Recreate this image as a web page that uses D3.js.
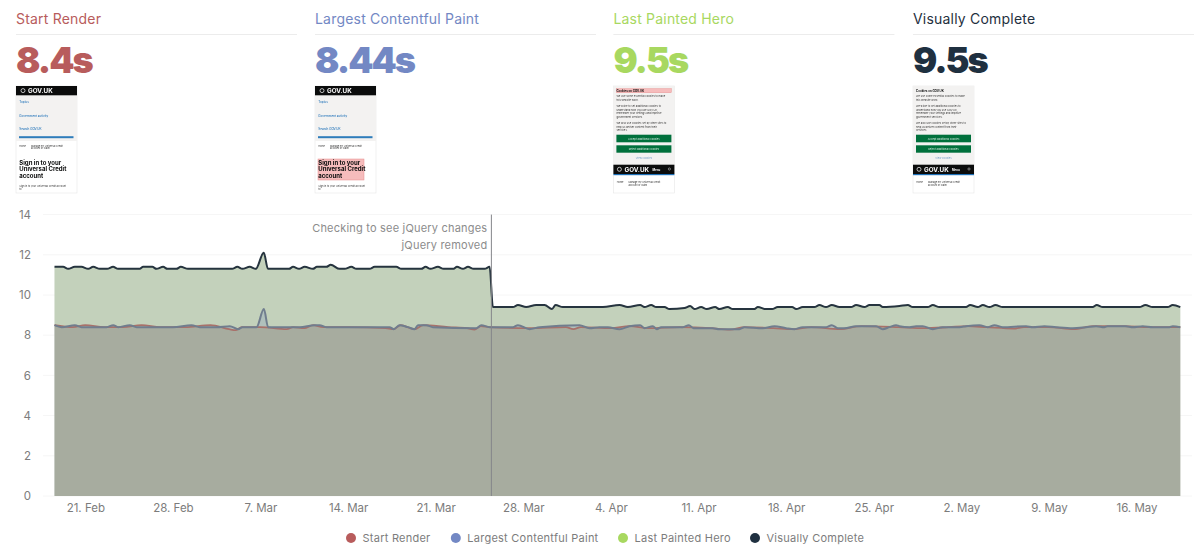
<!DOCTYPE html>
<html lang="en">
<head>
<meta charset="UTF-8">
<title>Rendering metrics</title>
<script src="https://d3js.org/d3.v7.min.js"></script>
<style>
    html, body { margin: 0; padding: 0; background: #fff; }
    svg { display: block; font-family: Inter, "Open Sans", sans-serif; }
    .axis text { fill: #7c7c7c; font-size: 11.5px; font-family: Inter, sans-serif; }
    .axis path, .axis line { display: none; }
    .thumb { filter: blur(0.45px); }
</style>
</head>
<body>
<svg id="chart" width="1200" height="559"></svg>
<script>
// summary cards
const metricNames = ["Start Render", "Largest Contentful Paint", "Last Painted Hero", "Visually Complete"];
const metricValues = ["8.4s", "8.44s", "9.5s", "9.5s"];
const metricColors = ["#b85c5c", "#7388c4", "#a8d860", "#1f3040"];

// series, days are counted from 21 Feb
const visualDays = [-2.46,-1.77,-1.37,-0.84,-0.31,0.23,0.63,1.16,1.74,2.22,2.62,4.35,4.62,5.36,5.68,6.22,6.56,7.28,7.63,8.21,11.73,12.15,12.55,13.14,13.62,14.26,14.6,16.28,16.6,17.08,17.53,18.19,18.51,19.26,19.61,20.32,20.72,21.26,21.66,22.72,23.12,24.85,25.25,26.85,27.19,27.57,28.18,28.63,29.43,29.7,30.18,30.58,31.03,31.91,32.31,32.57,34.17,34.57,35.23,36.03,36.7,37.29,37.58,38.16,40.83,41.36,42.69,43.35,44.34,44.68,45.22,45.62,46.28,46.68,47.88,48.33,48.68,49.21,49.66,50.33,50.67,51.34,51.74,53.47,53.74,54.4,54.88,55.33,56.48,56.8,57.33,58.26,58.66,59.19,59.65,60.26,61.19,61.59,62.26,62.66,63.45,63.72,65.06,65.73,66.12,67.32,67.72,68.25,70.38,70.7,71.32,71.72,72.25,72.73,73.31,80.5,80.82,81.3,84.23,84.71,85.29,86.49,86.89,87.5];
const visualValues = [11.4,11.4,11.3,11.4,11.4,11.3,11.4,11.3,11.3,11.4,11.3,11.3,11.4,11.4,11.3,11.4,11.3,11.3,11.4,11.3,11.3,11.4,11.3,11.4,11.3,12.1,11.3,11.3,11.4,11.3,11.4,11.3,11.4,11.4,11.5,11.3,11.3,11.4,11.3,11.3,11.4,11.4,11.3,11.3,11.4,11.3,11.4,11.3,11.3,11.4,11.3,11.4,11.3,11.3,11.4,9.4,9.4,9.5,9.4,9.5,9.5,9.3,9.5,9.4,9.4,9.4,9.5,9.4,9.5,9.4,9.5,9.4,9.4,9.3,9.35,9.45,9.3,9.4,9.3,9.4,9.3,9.4,9.3,9.3,9.4,9.3,9.3,9.4,9.4,9.3,9.4,9.4,9.5,9.4,9.5,9.4,9.4,9.5,9.4,9.5,9.5,9.4,9.45,9.5,9.4,9.4,9.5,9.4,9.4,9.5,9.4,9.5,9.4,9.5,9.4,9.4,9.5,9.4,9.4,9.5,9.4,9.4,9.5,9.4];

const lcpDays = [-2.46,-1.89,-0.83,-0.3,1.7,2.23,2.63,3.56,4.1,7,8.49,9.15,10.49,11.55,12.22,12.56,13.68,14.27,14.61,17.13,18.33,18.73,19.26,24.32,24.64,25.12,25.78,26.31,26.58,27.25,27.78,31.24,31.64,32.31,34.17,34.57,35.5,36.3,39.49,40.29,41.09,41.76,42.69,43.49,44.34,44.68,45.35,45.67,46.02,47.75,48.23,48.6,50.14,50.67,52.27,52.67,54.14,55.07,56,56.67,57.33,59.2,59.65,60.13,60.66,61.59,63.19,63.72,64.25,64.79,65.05,65.86,66.39,66.92,67.72,68.52,69.85,70.38,71.45,72.12,72.65,73.31,75.18,75.71,76.64,77.57,78.9,79.97,80.77,81.43,81.7,83.16,83.7,84.5,85.3,86.63,86.9,87.5];
const lcpValues = [8.5,8.4,8.5,8.4,8.4,8.5,8.4,8.5,8.4,8.4,8.5,8.4,8.4,8.45,8.3,8.4,8.4,9.3,8.4,8.4,8.5,8.5,8.4,8.4,8.3,8.5,8.4,8.3,8.5,8.5,8.4,8.35,8.5,8.4,8.4,8.5,8.3,8.4,8.5,8.35,8.4,8.4,8.3,8.45,8.5,8.35,8.45,8.3,8.4,8.4,8.5,8.35,8.35,8.3,8.3,8.4,8.35,8.45,8.35,8.3,8.4,8.4,8.5,8.35,8.35,8.45,8.45,8.3,8.4,8.5,8.45,8.4,8.45,8.45,8.3,8.4,8.4,8.45,8.5,8.4,8.5,8.4,8.45,8.4,8.45,8.4,8.35,8.4,8.45,8.4,8.45,8.45,8.4,8.45,8.4,8.4,8.45,8.4];

const renderDays = [-2.46,-1,0,1.5,3,4.5,6,8,10,11.5,12,12.5,14,16.1,16.6,17.5,18.2,19,21,24,24.64,25.2,26.3,27,29,30.5,31.1,31.6,32.3,35.5,38.4,39,39.6,42,43.5,45,47.5,50,51.5,52.7,55,56.6,58,60.3,62,65,67,69,70.5,72,74.2,75,77,79,80.5,83,85,87.5];
const renderValues = [8.5,8.4,8.5,8.4,8.4,8.5,8.4,8.4,8.5,8.3,8.25,8.4,8.4,8.3,8.4,8.35,8.5,8.4,8.4,8.35,8.3,8.5,8.3,8.5,8.4,8.35,8.28,8.45,8.4,8.35,8.4,8.3,8.4,8.35,8.45,8.35,8.4,8.35,8.28,8.4,8.35,8.3,8.4,8.3,8.45,8.4,8.35,8.4,8.45,8.4,8.33,8.4,8.4,8.3,8.45,8.45,8.4,8.4];

const plotLineDay = 32.45;
const plotLineLabels = ["Checking to see jQuery changes", "jQuery removed"];
const yTicks = [0, 2, 4, 6, 8, 10, 12, 14];
const xTickDays = [0, 7, 14, 21, 28, 35, 42, 49, 56, 63, 70, 77, 84];

const svg = d3.select("#chart");
const baseDate = new Date(2022, 1, 21);
const toDate = d => new Date(baseDate.getTime() + d * 864e5);

const x = d3.scaleTime().domain([toDate(0), toDate(84)]).range([85.3, 1136.5]);
const y = d3.scaleLinear().domain([0, 14]).range([496, 214.6]);

function zipSeries(days, values) {
    return days.map((d, i) => ({ date: toDate(d), value: values[i] }));
}

const line = d3.line().x(d => x(d.date)).y(d => y(d.value)).curve(d3.curveMonotoneX);
const area = d3.area().x(d => x(d.date)).y0(y(0)).y1(d => y(d.value)).curve(d3.curveMonotoneX);

// cards
const cardX = [16, 315, 613.4, 913];
const cards = svg.selectAll("g.card").data(metricNames).enter().append("g")
    .attr("class", "card")
    .attr("transform", (d, i) => `translate(${cardX[i]},0)`);

cards.append("text").attr("y", 24).attr("font-size", 14).attr("letter-spacing", 0.2)
    .attr("fill", (d, i) => metricColors[i]).text(d => d);
cards.append("line").attr("x1", 0).attr("x2", 281).attr("y1", 34.5).attr("y2", 34.5)
    .attr("stroke", "#ececec").attr("stroke-width", 1.2);
cards.append("text").attr("y", 73).attr("font-size", 36).attr("font-weight", 900).attr("letter-spacing", -2)
    .attr("fill", (d, i) => metricColors[i]).text((d, i) => metricValues[i]);

// little page screenshots
function addText(g, str, tx, ty, size, fill, weight, anchor) {
    g.append("text").attr("x", tx).attr("y", ty).attr("font-size", size).attr("fill", fill)
        .attr("font-weight", weight || 400).attr("text-anchor", anchor || "start").text(str);
}

function drawCrown(g, cx, cy) {
    g.append("circle").attr("cx", cx).attr("cy", cy).attr("r", 2).attr("fill", "none")
        .attr("stroke", "#fff").attr("stroke-width", 0.7);
}

function drawSignIn(g, highlight) {
    g.append("rect").attr("width", 61).attr("y", 9).attr("height", 46).attr("fill", "#f3f2f1");
    g.append("rect").attr("width", 61).attr("height", 9.3).attr("fill", "#0b0c0c");
    drawCrown(g, 7, 4.6);
    addText(g, "GOV.UK", 12, 7, 6.3, "#fff", 700);
    addText(g, "Topics", 3.3, 17, 3, "#1d70b8", 500);
    addText(g, "Government activity", 3.3, 30.6, 3, "#1d70b8", 500);
    addText(g, "Search GOV.UK", 3.3, 44.2, 3, "#1d70b8", 500);
    g.append("rect").attr("x", 3).attr("y", 50.2).attr("width", 54.5).attr("height", 2).attr("fill", "#2f7dbb");
    addText(g, "Home", 3.3, 60.6, 2.4, "#333");
    addText(g, "Manage my Universal Credit", 15, 60.6, 2.4, "#333");
    addText(g, "account or claim", 15, 63.4, 2.4, "#333");
    if (highlight) {
        g.append("rect").attr("x", 3).attr("y", 73).attr("width", 46).attr("height", 21)
            .attr("fill", "#f6bcbc").attr("stroke", "#e58d8d").attr("stroke-width", 0.5);
    }
    addText(g, "Sign in to your", 3.3, 78.6, 6, "#0b0c0c", 700);
    addText(g, "Universal Credit", 3.3, 85.2, 6, "#0b0c0c", 700);
    addText(g, "account", 3.3, 91.8, 6, "#0b0c0c", 700);
    addText(g, "Sign in to your Universal Credit account", 3.3, 100.6, 2.5, "#333");
    addText(g, "to:", 3.3, 104, 2.5, "#333");
}

function drawCookies(g, highlight) {
    g.append("rect").attr("width", 61).attr("height", 79).attr("fill", "#f3f2f1");
    if (highlight) {
        g.append("rect").attr("x", 3).attr("y", 2.6).attr("width", 55).attr("height", 4.2)
            .attr("fill", "#f6bcbc").attr("stroke", "#e58d8d").attr("stroke-width", 0.4);
    }
    addText(g, "Cookies on GOV.UK", 3, 5.8, 2.9, "#0b0c0c", 700);
    const para = [["We use some essential cookies to make", 11.4], ["this website work.", 15],
        ["We'd like to set additional cookies to", 21], ["understand how you use GOV.UK,", 24.7],
        ["remember your settings and improve", 28.4], ["government services.", 32.1],
        ["We also use cookies set by other sites to", 38], ["help us deliver content from their", 41.7], ["services.", 45.4]];
    para.forEach(p => addText(g, p[0], 3, p[1], 2.6, "#333"));
    g.append("rect").attr("x", 3).attr("y", 48.7).attr("width", 55).attr("height", 7.6).attr("fill", "#00703c");
    g.append("rect").attr("x", 3).attr("y", 59.3).attr("width", 55).attr("height", 7.4).attr("fill", "#00703c");
    addText(g, "Accept additional cookies", 30.5, 53.5, 2.6, "#d5eadf", 400, "middle");
    addText(g, "Reject additional cookies", 30.5, 64, 2.6, "#d5eadf", 400, "middle");
    addText(g, "View cookies", 30.5, 73, 2.6, "#6d9cc7", 400, "middle");
    g.append("rect").attr("y", 78.7).attr("width", 61).attr("height", 9.3).attr("fill", "#0b0c0c");
    g.append("rect").attr("y", 88).attr("width", 61).attr("height", 1.2).attr("fill", "#1d70b8");
    drawCrown(g, 6, 83.3);
    addText(g, "GOV.UK", 11, 85.8, 6.3, "#fff", 700);
    addText(g, "Menu", 39, 85.2, 2.8, "#fff", 700);
    g.append("circle").attr("cx", 56).attr("cy", 83).attr("r", 1.1).attr("fill", "none").attr("stroke", "#ddd").attr("stroke-width", 0.5);
    addText(g, "Home", 3.3, 97.4, 2.4, "#333");
    addText(g, "Manage my Universal Credit", 15, 97.4, 2.4, "#333");
    addText(g, "account or claim", 15, 100.2, 2.4, "#333");
}

cardX.forEach((cx, i) => {
    const g = svg.append("g").attr("class", "thumb").attr("transform", `translate(${cx},86)`);
    g.append("rect").attr("width", 61).attr("height", 107).attr("fill", "#fff")
        .attr("stroke", "#e6e6e6").attr("stroke-width", 0.6);
    if (i < 2) drawSignIn(g, i === 1);
    else drawCookies(g, i === 2);
});

// grid
svg.append("g").selectAll("line").data(yTicks).enter().append("line")
    .attr("x1", 43).attr("x2", 1192)
    .attr("y1", d => y(d)).attr("y2", d => y(d))
    .attr("stroke", "#f6f6f6");

// series
const visualData = zipSeries(visualDays, visualValues);
const lcpData = zipSeries(lcpDays, lcpValues);
const renderData = zipSeries(renderDays, renderValues);

// white base so the grid does not show through the fills
svg.append("path").datum(visualData).attr("d", area).attr("fill", "#fff");

const fillOpacity = 0.22;
[[visualData, "#1f3040"], [visualData, "#a0cc60"], [lcpData, "#6f84c0"], [renderData, "#89623d"]].forEach(s => {
    svg.append("path").datum(s[0]).attr("d", area).attr("fill", s[1]).attr("fill-opacity", fillOpacity);
});

[[renderData, "#a8716a", 1.8], [lcpData, "#707d8e", 2], [visualData, "#26343f", 2]].forEach(s => {
    svg.append("path").datum(s[0]).attr("d", line).attr("fill", "none")
        .attr("stroke", s[1]).attr("stroke-width", s[2]).attr("stroke-linejoin", "round");
});

// marker for the jQuery change
svg.append("line")
    .attr("x1", x(toDate(plotLineDay))).attr("x2", x(toDate(plotLineDay)))
    .attr("y1", y(14)).attr("y2", y(0))
    .attr("stroke", "#85868a").attr("stroke-width", 1);
svg.selectAll("text.note").data(plotLineLabels).enter().append("text")
    .attr("class", "note")
    .attr("x", x(toDate(plotLineDay)) - 4)
    .attr("y", (d, i) => 232 + i * 17)
    .attr("text-anchor", "end")
    .attr("font-size", 11).attr("letter-spacing", 0.2).attr("fill", "#8c8c8c")
    .text(d => d);

// axes
svg.append("g").attr("class", "axis").attr("transform", "translate(31,0)")
    .call(d3.axisLeft(y).tickValues(yTicks).tickSize(0).tickPadding(0));

svg.append("g").attr("class", "axis").attr("transform", "translate(0,496)")
    .call(d3.axisBottom(x).tickValues(xTickDays.map(toDate)).tickSize(0).tickPadding(8)
        .tickFormat(d3.timeFormat("%-d. %b")));

// legend
const legendDotX = [351, 455.8, 623, 755];
const legend = svg.selectAll("g.legend").data(metricNames).enter().append("g")
    .attr("class", "legend")
    .attr("transform", (d, i) => `translate(${legendDotX[i]},538)`);
legend.append("circle").attr("r", 5).attr("fill", (d, i) => metricColors[i]);
legend.append("text").attr("x", 11.5).attr("y", 4.2).attr("font-size", 11).attr("letter-spacing", 0.25)
    .attr("fill", "#7c7c7c").text(d => d);
</script>
</body>
</html>
